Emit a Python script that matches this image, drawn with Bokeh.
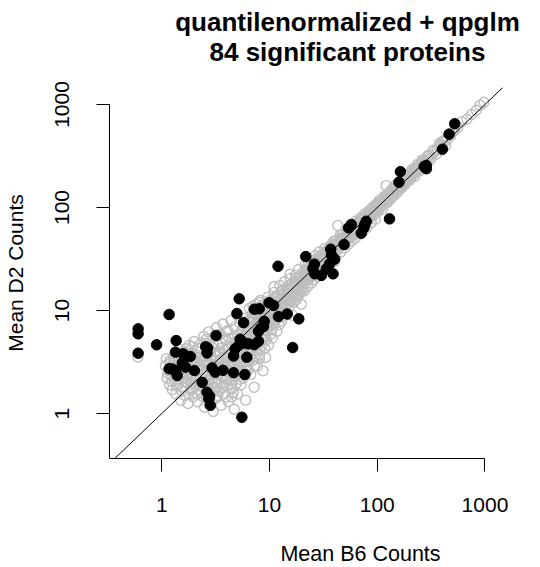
from bokeh.plotting import figure
from bokeh.models import Range1d, FixedTicker, Label, Slope
from bokeh.embed import file_html
from bokeh.resources import INLINE

# ---------------- data ----------------
title_lines = ["quantilenormalized + qpglm", "84 significant proteins"]
x_label = "Mean B6 Counts"
y_label = "Mean D2 Counts"
tick_values = [1, 10, 100, 1000]
tick_labels = ["1", "10", "100", "1000"]

# all proteins (grey open circles)
gray_b6 = [
    0.60, 1.08, 1.10, 1.12, 1.15, 1.18, 1.20, 1.22, 1.25, 1.28, 1.30, 1.32, 1.35, 1.38, 1.40, 1.42, 1.45, 1.48,
    1.50, 1.52, 1.55, 1.58, 1.60, 1.62, 1.65, 1.68, 1.70, 1.72, 1.75, 1.78, 1.80, 1.83, 1.86, 1.90, 1.92, 1.95,
    1.98, 2.00, 2.05, 2.08, 2.10, 2.15, 2.20, 2.25, 2.30, 2.35, 2.40, 2.45,
    2.50, 2.52, 2.55, 2.58, 2.60, 2.65, 2.70, 2.72, 2.75, 2.80, 2.85, 2.90, 2.92, 2.95, 3.00, 3.00, 3.05, 3.10,
    3.15, 3.20, 3.25, 3.30, 3.35, 3.40, 3.45, 3.50, 3.55, 3.60, 3.65, 3.70, 3.75, 3.80, 3.85, 3.90, 3.95,
    4.00, 4.05, 4.10, 4.15, 4.20, 4.30, 4.35, 4.40, 4.45, 4.50, 4.60, 4.65, 4.70, 4.75, 4.80, 4.90, 4.95, 5.00,
    5.05, 5.10, 5.20, 5.25, 5.30, 5.40, 5.45, 5.50, 5.60, 5.70, 5.80, 5.85, 5.90, 6.00, 6.10, 6.20, 6.30, 6.40,
    6.50, 6.60, 6.70, 6.80, 6.90, 7.00, 7.10, 7.20, 7.30, 7.40, 7.50, 7.60, 7.70, 7.80, 7.90, 8.00, 8.10, 8.20,
    8.30, 8.50, 8.60, 8.70, 8.80, 9.00, 9.10, 9.20, 9.40, 9.50, 9.70, 9.80, 9.90,
    10.2, 10.4, 10.6, 10.8, 11.0, 11.2, 11.5, 11.7, 12.0, 12.2, 12.5, 12.7, 13.0, 13.2, 13.5, 13.8, 14.0, 14.3,
    14.6, 15.0, 15.3, 15.6, 16.0, 16.3, 16.6, 17.0, 17.4, 17.8, 18.2, 18.6, 19.0, 19.4, 19.7, 20.0,
    20.5, 21.0, 21.5, 22.0, 22.5, 23.0, 23.5, 24.0, 24.5, 25.0, 25.5, 26.0, 26.5, 27.0, 27.5, 28.0, 28.5, 29.0,
    29.5, 30.0, 30.5, 31.0, 32.0, 32.5, 33.0, 34.0, 35.0, 36.0, 37.0, 38.0, 39.0, 40.0,
    41, 42, 43, 44, 45, 46, 47, 48, 49, 50, 52, 53, 54, 55, 57, 58, 60, 61, 63, 64, 66, 68, 70, 72, 74, 76, 78,
    80, 83, 85, 88, 90, 93, 96, 98,
    102, 105, 108, 112, 116, 121, 124, 128, 133, 138, 142, 148, 154, 160, 168, 175, 182, 190, 200, 212, 222,
    235, 248, 262, 280, 295,
    310, 330, 355, 380, 405, 430, 470, 520, 560, 610, 680, 750, 830, 900, 980,
    1.6, 1.7, 1.85, 1.95, 2.1, 2.2, 2.3, 2.4, 2.5, 2.6, 2.7, 2.8, 2.9, 3.1, 3.2, 3.3, 3.4, 3.6, 3.7, 3.9,
    4.0, 4.2, 4.4, 4.6, 4.8, 5.0, 5.3, 5.6, 6.0, 6.3,
    6.2, 6.5, 6.8, 7.0, 7.3, 7.6, 7.9, 8.2, 8.4, 8.7, 9.0, 9.3, 9.6, 9.9, 10.1, 10.5, 10.9, 11.3, 11.8, 12.3,
    12.8, 13.3, 13.7, 14.2, 14.8, 15.2, 15.8, 16.2, 16.8, 17.3, 17.7, 18.4, 18.9, 19.3, 19.9, 20.3, 8.0, 11.0,
    15.5, 7.0,
    20.8, 21.3, 21.8, 22.4, 22.9, 23.6, 24.2, 24.8, 25.4, 26.2, 26.8, 27.6, 28.3, 29.2, 30.2, 31.2, 32.2, 33.5,
    34.5, 35.5, 36.5, 37.5, 38.5, 39.5, 41.5, 43.5, 45.5, 47.5, 50.5, 51.5, 53.5, 56, 59, 62, 65, 67, 69, 71,
    73, 75, 77, 79, 82, 84, 87, 89, 92, 95, 97, 99,
    101, 104, 107, 110, 114, 118, 122, 126, 131, 136, 140, 145, 150, 156, 162, 166, 172, 178, 185, 193, 198,
    205, 215, 225, 230, 240, 255, 268, 275, 290, 305, 320, 340, 360, 375, 395, 420, 445, 480, 500,
    1.14, 1.19, 1.24, 1.29, 1.33, 1.37, 1.41, 1.44, 1.47, 1.51, 1.54, 1.57, 1.61, 1.64, 1.67, 1.71, 1.74, 1.77,
    1.81, 1.84, 1.88, 1.91, 1.94, 1.97, 2.02, 2.06, 2.11, 2.16, 2.21, 2.27, 2.32, 2.38, 2.43, 2.48, 2.54, 2.59,
    2.64, 2.69, 2.74, 2.79, 2.86, 2.93, 2.99, 3.06, 3.12, 3.18, 3.24, 3.31, 3.38, 3.44, 3.52, 3.58, 3.66, 3.73,
    3.82, 3.91, 3.98, 4.07, 4.16, 4.25, 4.36, 4.47, 4.57, 4.68, 4.79, 4.91, 5.03, 5.15, 5.28, 5.42,
    5.55, 5.70, 5.85, 6.05, 6.15, 6.35, 6.45, 6.60, 6.75, 6.95, 7.05, 7.25, 7.35, 7.55, 7.65, 7.85, 8.05, 8.25,
    8.45, 8.65, 8.85, 9.05, 9.25, 9.45, 9.65, 9.85, 10.3, 10.7, 11.1, 11.4, 11.9, 12.4, 12.9, 13.4, 13.9, 14.4,
    15.1, 15.7, 16.4, 17.1, 17.9, 18.7, 19.5, 20.2, 21.1, 22.1, 23.1, 24.1, 25.2, 26.3, 27.3, 28.6, 29.8, 12.6,
    14.9, 17.6, 10.8, 9.3, 8.1, 7.1,
    31.5, 33.2, 35.2, 37.2, 39.2, 41.3, 43.8, 46.2, 48.6, 51.2, 54.2, 56.8, 59.8, 62.8, 66.2, 69.8, 73.5, 77.5,
    81.5, 86.0, 90.5, 95.5, 100.5, 106, 111.5, 117.5, 123.5, 130, 137, 144, 152, 160, 169, 178, 187, 197, 208,
    219, 231, 243, 256, 270, 284, 300, 58.0, 64.5, 71.5, 83.5, 45.0, 34.0, 39.8, 47.0, 52.5, 98.5, 120, 141,
    165, 182, 213, 262,
    3.3, 3.5, 3.8, 4.1, 4.3, 4.6, 4.9, 5.2, 5.4, 5.7, 6.0, 6.3, 6.6, 6.9, 7.2, 7.5, 7.8, 8.1, 8.5, 8.9,
    9.2, 9.6, 10.0, 10.5, 11.0, 11.6, 12.1, 12.7, 13.4, 14.0, 14.7, 15.4, 16.1, 16.9, 17.7, 18.6, 19.6, 20.6,
    21.7, 22.8, 24.0, 25.3, 26.6, 28.0, 29.5, 31.0, 32.8, 34.6, 36.5, 38.5, 40.6, 42.8, 45.2, 47.7, 50.3, 53.0,
    56.0, 59.0, 62.5, 66.0,
]
gray_d2 = [
    3.55, 2.90, 3.40, 2.20, 2.60, 1.90, 3.10, 2.40, 1.70, 2.80, 3.60, 2.10, 1.55, 2.50, 3.00, 1.90, 4.20, 2.30,
    1.35, 2.70, 3.30, 1.80, 2.20, 4.00, 1.50, 2.90, 3.60, 2.00, 1.25, 2.50, 4.60, 3.10, 1.70, 2.30, 3.90, 1.45,
    2.70, 5.00, 1.90, 3.30, 2.20, 1.30, 4.30, 2.90, 1.60, 3.60, 2.40, 5.60,
    1.15, 2.00, 3.10, 4.80, 1.50, 2.60, 3.80, 6.20, 1.25, 2.20, 3.40, 1.80, 4.40, 2.90, 1.05, 5.50, 2.40, 3.70,
    1.40, 6.80, 2.00, 3.00, 4.60, 1.65, 2.70, 5.90, 1.20, 3.40, 2.30, 7.40, 4.10, 1.90, 2.90, 5.20, 1.45,
    3.60, 2.50, 6.40, 1.30, 4.50, 2.10, 3.10, 8.00, 1.75, 5.40, 2.80, 3.90, 1.10, 6.90, 2.30, 4.70, 3.30, 9.00,
    1.55, 5.80, 2.60, 4.00, 7.60, 3.00, 1.90, 5.00, 6.50, 2.20, 3.60, 8.40, 4.40, 1.35, 5.40, 2.90, 7.00, 3.90,
    10.5, 4.80, 2.40, 6.00, 8.60, 3.30, 5.20, 1.80, 7.10, 4.10, 11.5, 6.30, 2.90, 9.00, 5.00, 7.50, 3.70, 12.5,
    6.60, 4.60, 9.80, 2.60, 7.80, 5.80, 11.0, 3.50, 8.50, 6.90, 13.5, 4.60, 10.0,
    7.2, 12.0, 5.4, 9.4, 15.0, 8.0, 11.2, 6.3, 13.5, 9.6, 17.5, 10.8, 7.9, 14.0, 11.5, 19.0, 9.3, 12.6,
    16.0, 10.5, 14.5, 20.5, 12.2, 9.0, 17.3, 14.2, 22.0, 12.8, 16.5, 25.0, 14.6, 19.5, 11.5, 18.0,
    23.5, 15.5, 28.0, 19.5, 17.0, 25.5, 21.0, 31.0, 18.5, 23.0, 27.5, 20.0, 34.0, 24.5, 29.5, 21.5, 26.0, 37.0,
    23.5, 31.0, 27.0, 35.0, 24.5, 40.0, 29.5, 33.5, 27.0, 39.0, 31.5, 44.0, 34.5, 30.0,
    47.0, 38.0, 67.0, 41.5, 50.0, 37.0, 44.5, 55.0, 46.0, 40.5, 58.0, 49.0, 44.0, 63.0, 52.0, 47.5, 68.0, 56.0,
    51.0, 74.0, 60.0, 55.5, 79.0, 65.0, 59.0, 86.0, 70.0, 64.0, 92.0, 78.0, 71.0, 100.0, 84.0, 77.0, 108.0,
    92.0, 118.0, 100.0, 96.0, 128.0, 163.0, 112.0, 138.0, 121.0, 152.0, 130.0, 165.0, 140.0, 178.0, 155.0,
    195.0, 168.0, 210.0, 184.0, 235.0, 200.0, 262.0, 228.0, 290.0, 255.0, 320.0,
    290, 360, 330, 420, 440, 400, 510, 560, 600, 680, 720, 800, 880, 980, 1050,
    3.0, 2.6, 2.0, 3.4, 2.8, 1.7, 3.2, 1.9, 3.6, 2.3, 1.7, 4.1, 2.6, 2.0, 3.3, 1.5, 4.0, 2.6, 1.8, 3.5,
    2.2, 5.4, 3.2, 1.6, 4.3, 2.9, 3.5, 2.6, 4.7, 3.3,
    6.2, 5.3, 7.6, 4.6, 9.5, 5.6, 8.2, 4.2, 10.8, 6.1, 8.9, 5.2, 11.8, 7.6, 9.8, 6.5, 13.0, 9.0, 10.3, 7.3,
    15.5, 10.0, 12.5, 16.5, 11.7, 13.2, 17.8, 15.0, 12.0, 19.3, 16.0, 13.8, 21.0, 17.5, 15.2, 20.5, 12.0, 17.0,
    22.5, 11.0,
    18.5, 22.5, 25.5, 21.0, 29.0, 24.0, 21.8, 27.0, 30.5, 24.2, 28.0, 32.0, 25.0, 30.0, 34.5, 29.0, 32.5, 38.0,
    30.5, 35.0, 42.0, 36.0, 39.5, 47.0, 40.0, 45.0, 54.0, 49.0, 51.0, 62.0, 53.0, 58.0, 60.0, 65.0, 66.0, 72.0,
    64.0, 73.0, 77.0, 70.0, 80.0, 74.0, 84.0, 90.0, 82.0, 94.0, 90.0, 98.0, 92.0, 101.0,
    104, 99, 110, 106, 118, 112, 125, 121, 134, 129, 143, 139, 152, 150, 165, 160, 176, 172, 190, 186, 205,
    199, 222, 218, 240, 236, 262, 262, 285, 290, 318, 312, 350, 365, 395, 400, 440, 455, 500, 540,
    2.45, 3.25, 2.05, 3.45, 2.65, 1.85, 3.25, 2.15, 3.75, 2.45, 1.65, 2.95, 3.55, 2.05, 4.25, 2.35, 3.15, 1.55,
    2.75, 3.85, 2.15, 4.45, 1.75, 3.05, 2.45, 3.75, 1.55, 2.65, 3.45, 1.85, 4.85, 2.75, 1.45, 3.25, 2.25, 5.25,
    1.85, 3.05, 2.45, 1.35, 3.55, 2.15, 4.75, 1.75, 2.85, 3.95, 1.45, 2.45, 5.75, 3.25, 1.95, 2.85, 4.35, 1.55,
    3.05, 2.35, 6.25, 1.85, 3.45, 2.65, 4.85, 1.45, 3.55, 2.35, 5.65, 1.95, 3.15, 4.25, 2.15, 6.15,
    5.5, 4.0, 7.0, 2.6, 4.9, 8.0, 3.2, 6.7, 4.3, 9.4, 5.8, 2.9, 7.4, 4.5, 10.2, 6.1, 3.4, 8.4,
    5.3, 11.4, 7.1, 4.3, 9.2, 6.4, 12.4, 8.1, 5.9, 10.4, 7.4, 13.6, 9.1, 11.9, 8.6, 15.6, 10.9, 13.4,
    17.4, 12.4, 14.7, 18.6, 14.4, 17.6, 21.8, 16.4, 20.2, 24.6, 19.8, 26.2, 22.4, 29.2, 25.2, 27.4, 33.2, 13.2,
    15.8, 20.8, 11.6, 10.4, 9.4, 8.3,
    32.0, 36.5, 32.5, 40.5, 36.8, 44.0, 40.8, 49.5, 45.2, 55.0, 50.5, 61.0, 56.0, 67.5, 62.0, 75.0, 69.0, 83.0,
    77.0, 92.0, 86.0, 103.0, 95.0, 114, 106, 126, 118, 140, 131, 154, 145, 171, 161, 190, 179, 211, 198,
    234, 220, 259, 244, 287, 270, 316, 53.0, 70.0, 66.0, 88.0, 42.0, 37.0, 43.0, 44.0, 57.5, 106, 122, 146,
    166, 185, 216, 268,
    2.2, 3.8, 2.6, 4.2, 1.9, 3.0, 5.0, 2.5, 4.2, 3.1, 5.8, 2.6, 4.1, 6.3, 3.6, 5.4, 7.2, 4.8, 6.9, 9.0,
    5.5, 8.2, 10.5, 7.9, 9.9, 12.1, 8.7, 11.3, 13.1, 11.1, 14.6, 12.6, 16.3, 14.3, 17.1, 15.9, 19.2, 18.0,
    22.2, 20.5, 23.4, 22.9, 26.4, 26.1, 29.8, 28.9, 33.4, 32.4, 37.1, 35.9, 41.6, 40.2, 46.4, 45.3, 52.1, 50.0,
    57.8, 55.9, 64.6, 62.1,
]

# 84 significant proteins (black filled points)
sig_b6 = [
    1.17, 0.603, 0.603, 0.895, 1.36, 0.603, 1.34, 1.58, 1.84, 2.66, 2.63, 1.17, 1.34, 1.39, 1.66, 2.01, 2.37,
    2.63, 2.73, 2.82, 3.19, 5.54, 16.4, 14.6, 12.1, 9.9, 8.03, 7.22, 4.98, 5.74, 5.34, 5.84, 6.38, 7.22, 8.29,
    8.93, 7.90, 4.64, 6.16, 2.93, 3.70, 4.64, 5.90,
    5.23, 10.9, 18.7, 7.90, 4.80, 5.16, 3.14, 21.7, 26.1, 26.3, 12.0,
    164, 159, 130, 79.0, 75.2, 71.0, 57.4, 54.2, 49.2, 37.0, 40.3, 36.2, 33.7, 38.9, 30.3,
    524, 464, 403, 273, 286,
    2.55, 2.78, 1.55, 5.5, 8.8, 25.3, 37.6, 285, 1.25, 76.5,
]
sig_d2 = [
    9.15, 6.64, 5.94, 4.65, 5.11, 3.85, 3.94, 3.80, 3.58, 4.32, 3.87, 2.72, 2.61, 2.34, 2.82, 2.61, 2.01,
    1.61, 1.39, 1.20, 5.72, 0.92, 4.37, 9.25, 8.74, 11.9, 10.4, 10.3, 9.35, 7.62, 5.26, 4.84, 4.75, 4.66, 6.72,
    7.85, 6.30, 3.62, 3.52, 2.77, 2.63, 2.49, 2.39,
    13.0, 11.2, 8.30, 5.03, 4.25, 4.57, 2.52, 33.4, 28.2, 22.7, 26.9,
    223, 176, 77.6, 73.6, 63.5, 56.3, 68.4, 63.5, 43.7, 39.4, 31.5, 28.4, 25.4, 22.7, 21.9,
    650, 515, 368, 250, 238,
    4.45, 1.47, 3.1, 4.9, 7.0, 25.6, 34.5, 256, 2.7, 68,
]

# ---------------- figure ----------------
FONT = "Liberation Sans"
X_START, X_END = 0.327, 1486
Y_START, Y_END = 0.366, 1462

p = figure(width=540, height=567, x_axis_type="log", y_axis_type="log",
           x_range=Range1d(X_START, X_END), y_range=Range1d(Y_START, Y_END),
           output_backend="svg", toolbar_location=None, title=None,
           min_border_left=107, min_border_right=37, min_border_top=87, min_border_bottom=109)
p.outline_line_color = None
p.xgrid.visible = False
p.ygrid.visible = False
p.background_fill_color = "white"
p.border_fill_color = "white"

p.scatter(gray_b6, gray_d2, marker="circle", size=10, fill_color=None,
          line_color="#BEBEBE", line_width=1.4)
p.scatter(sig_b6, sig_d2, marker="circle", size=10.5, fill_color="black",
          line_color="black", line_width=1)
p.add_layout(Slope(gradient=1, y_intercept=0, line_color="black", line_width=1))

overrides = {float(v): t for v, t in zip(tick_values, tick_labels)}
for ax, bnd in ((p.xaxis[0], (X_START, 1000)), (p.yaxis[0], (Y_START, 1000))):
    ax.ticker = FixedTicker(ticks=tick_values, minor_ticks=[])
    ax.major_label_overrides = overrides
    ax.bounds = bnd
    ax.axis_line_color = "black"
    ax.axis_line_width = 1
    ax.major_tick_line_color = "black"
    ax.major_tick_out = 13
    ax.major_tick_in = 0
    ax.minor_tick_line_color = None
    ax.major_label_text_font = FONT
    ax.major_label_text_font_size = "21px"
    ax.major_label_text_color = "black"
p.xaxis[0].major_label_standoff = 26
p.yaxis[0].major_label_standoff = 27
p.yaxis[0].major_label_orientation = "vertical"

p.yaxis[0].axis_label = y_label
p.yaxis[0].axis_label_text_font = FONT
p.yaxis[0].axis_label_text_font_size = "21px"
p.yaxis[0].axis_label_text_font_style = "normal"
p.yaxis[0].axis_label_text_color = "black"
p.yaxis[0].axis_label_standoff = 26

# texts in side panels (screen units relative to the panel box)
p.add_layout(Label(x=238, y=81, x_units="screen", y_units="screen", text="\n".join(title_lines),
                   text_align="center", text_baseline="top", text_font=FONT, text_line_height=1.0,
                   text_font_style="bold", text_font_size="26px", text_color="black"), "above")
p.add_layout(Label(x=251, y=-15, x_units="screen", y_units="screen", text=x_label,
                   text_align="center", text_baseline="alphabetic", text_font=FONT,
                   text_font_size="21.5px", text_color="black"), "below")

open("out.html", "w").write(file_html(p, INLINE))
